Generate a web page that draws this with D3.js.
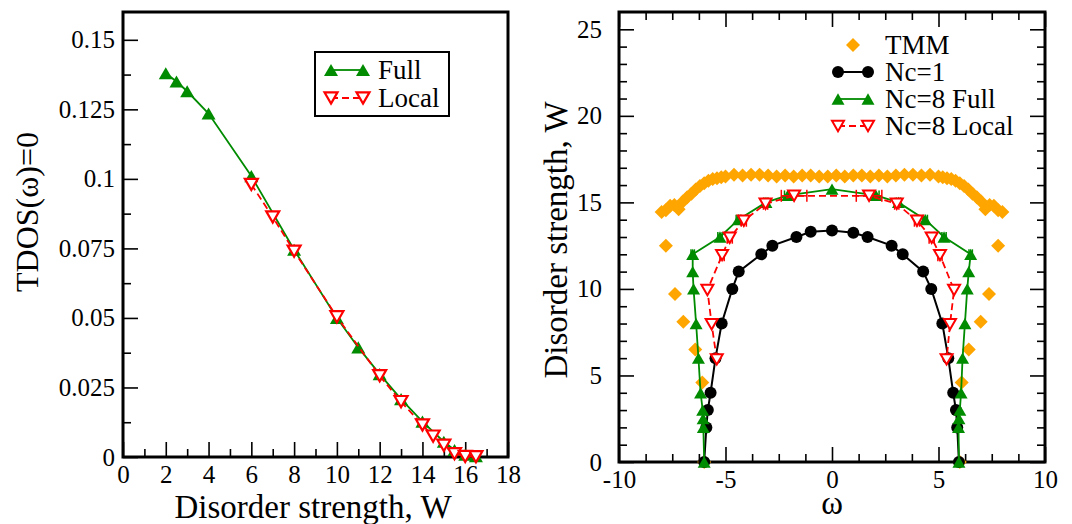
<!DOCTYPE html>
<html><head><meta charset="utf-8">
<script src="https://cdn.jsdelivr.net/npm/d3@7"></script>
<style>html,body{margin:0;padding:0;background:#fff;} svg text{font-family:'Liberation Serif','Times New Roman',serif;}</style>
</head><body>
<svg id="c" width="1072" height="524"></svg>
<script>
// ---------- Left panel data ----------
const leftFullW    = [2, 2.5, 3, 4, 6, 8, 10, 11, 12, 13, 14, 15, 15.5, 16, 16.5];
const leftFullTDOS = [0.138, 0.135, 0.1315, 0.1235, 0.101, 0.0745, 0.050, 0.0394, 0.0298, 0.0208, 0.0127, 0.0055, 0.0025, 0.0008, 0.0003];
const leftLocalW    = [6, 7, 8, 10, 12, 13, 14, 14.5, 15, 15.5, 16, 16.5];
const leftLocalTDOS = [0.098, 0.0863, 0.074, 0.0504, 0.0292, 0.0199, 0.0115, 0.0075, 0.0042, 0.0012, 0.0002, 0.0001];
const leftXTicks = [0, 2, 4, 6, 8, 10, 12, 14, 16, 18];
const leftYTicks = [0, 0.025, 0.05, 0.075, 0.1, 0.125, 0.15];
const leftYTickLabels = ["0", "0.025", "0.05", "0.075", "0.1", "0.125", "0.15"];

// ---------- Right panel data ----------
const tmmOmega = [-8.0, -7.8, -7.6, -7.4, -7.2, -7.0, -6.8, -6.6, -6.4, -6.2, -6.0, -5.8, -5.6, -5.4, -5.2, -5.0, -4.6, -4.2, -3.8, -3.4, -3.0, -2.6, -2.2, -1.8, -1.4, -1.0, -0.6, -0.2, 0.2, 0.6, 1.0, 1.4, 1.8, 2.2, 2.6, 3.0, 3.4, 3.8, 4.2, 4.6, 5.0, 5.2, 5.4, 5.6, 5.8, 6.0, 6.2, 6.4, 6.6, 6.8, 7.0, 7.2, 7.4, 7.6, 7.8, 8.0,
                  -7.8, -7.37, -6.98, -6.42, -6.09, -6.0, 7.8, 7.37, 6.98, 6.42, 6.09, 6.0];
const tmmW     = [14.45, 14.55, 14.8, 14.85, 14.6, 15.05, 15.3, 15.5, 15.75, 15.95, 16.1, 16.25, 16.35, 16.4, 16.45, 16.5, 16.6, 16.55, 16.6, 16.6, 16.55, 16.5, 16.55, 16.5, 16.55, 16.55, 16.5, 16.5, 16.55, 16.5, 16.55, 16.55, 16.5, 16.55, 16.5, 16.55, 16.6, 16.6, 16.55, 16.6, 16.5, 16.45, 16.4, 16.35, 16.25, 16.1, 15.95, 15.75, 15.5, 15.3, 15.05, 14.6, 14.85, 14.8, 14.55, 14.45,
                  12.5, 9.7, 8.1, 6.5, 4.6, 0, 12.5, 9.7, 8.1, 6.5, 4.6, 0];

const nc1Omega = [-6.0, -5.9, -5.83, -5.7, -5.47, -5.18, -4.68, -4.38, -3.32, -2.8, -1.67, -1.0, 0, 1.0, 1.67, 2.8, 3.32, 4.28, 4.66, 5.18, 5.46, 5.69, 5.82, 5.88, 5.96];
const nc1W     = [0, 2, 3, 4, 6, 8, 10, 11, 12, 12.5, 13, 13.3, 13.37, 13.25, 13, 12.5, 12, 11, 10, 8, 6, 4, 3, 2, 0];

const fullOmega = [-6.0, -6.04, -6.05, -6.07, -6.17, -6.27, -6.38, -6.5, -6.54, -6.54, -5.26, -4.4, -3.1, -2.08, 0, 2.06, 3.12, 4.38, 5.26, 6.51, 6.42, 6.35, 6.24, 6.13, 6.06, 6.0, 5.96, 5.94, 5.96];
const fullW     = [0, 2, 2.5, 3, 4, 6, 8, 10, 11, 12, 13, 14, 15, 15.4, 15.77, 15.4, 15, 14, 13, 12, 11, 10, 8, 6, 4, 3, 2.5, 2, 0];
const fullErr   = [0, 0, 0, 0, 0, 0, 0, 0, 0, 0.08, 0.1, 0.1, 0.1, 0.15, 0, 0.15, 0.1, 0.1, 0.1, 0.08, 0, 0, 0, 0, 0, 0, 0, 0, 0];

const localOmega = [-5.41, -5.65, -5.85, -5.16, -4.8, -4.14, -3.12, -1.78, 1.74, 3.04, 3.99, 4.68, 5.07, 5.73, 5.54, 5.38];
const localW     = [5.93, 7.96, 9.94, 11.95, 12.96, 13.94, 14.92, 15.38, 15.38, 14.92, 13.94, 12.96, 11.95, 9.94, 7.96, 5.93];
const localErr   = [0, 0, 0, 0.1, 0.12, 0.12, 0.1, 0.6, 0.6, 0.1, 0.12, 0.12, 0.1, 0, 0, 0];

const rightXTicks = [-10, -5, 0, 5, 10];
const rightYTicks = [0, 5, 10, 15, 20, 25];
const rightLegend = ["TMM", "Nc=1", "Nc=8 Full", "Nc=8 Local"];
const leftLegend = ["Full", "Local"];

// ---------- Styles ----------
const FONT = "'Liberation Serif','Times New Roman',serif";
const GREEN = "#008b00", RED = "#ff0000", ORANGE = "#ffa500", BLACK = "#000";

const svg = d3.select("#c");

function triUp(s){const h=s*0.433;return `M0,${-h}L${s/2},${h}L${-s/2},${h}Z`;}
function triDown(s){const h=s*0.433;return `M0,${h}L${s/2},${-h}L${-s/2},${-h}Z`;}
function diamond(s){return `M0,${-s}L${s},0L0,${s}L${-s},0Z`;}

function frameAxes(g, x, y, xMaj, xMin, yMaj, yMin, allSides, xFmt, yFmt, yPad, xPad){
  const [x0,x1]=x.range(), [y0,y1]=y.range();
  const ax = d3.axisBottom(x).tickValues(xMaj).tickSizeInner(-15).tickSizeOuter(0).tickPadding(xPad).tickFormat(xFmt);
  const axm = d3.axisBottom(x).tickValues(xMin).tickSizeInner(-8).tickSizeOuter(0).tickFormat("");
  const ay = d3.axisLeft(y).tickValues(yMaj).tickSizeInner(-15).tickSizeOuter(0).tickPadding(yPad).tickFormat(yFmt);
  const aym = d3.axisLeft(y).tickValues(yMin).tickSizeInner(-8).tickSizeOuter(0).tickFormat("");
  const parts = [
    g.append("g").attr("transform",`translate(0,${y0})`).call(ax),
    g.append("g").attr("transform",`translate(0,${y0})`).call(axm),
    g.append("g").attr("transform",`translate(${x0},0)`).call(ay),
    g.append("g").attr("transform",`translate(${x0},0)`).call(aym)
  ];
  if(allSides){
    parts.push(g.append("g").attr("transform",`translate(0,${y1})`).call(d3.axisTop(x).tickValues(xMaj).tickSizeInner(-15).tickSizeOuter(0).tickFormat("")));
    parts.push(g.append("g").attr("transform",`translate(0,${y1})`).call(d3.axisTop(x).tickValues(xMin).tickSizeInner(-8).tickSizeOuter(0).tickFormat("")));
    parts.push(g.append("g").attr("transform",`translate(${x1},0)`).call(d3.axisRight(y).tickValues(yMaj).tickSizeInner(-15).tickSizeOuter(0).tickFormat("")));
    parts.push(g.append("g").attr("transform",`translate(${x1},0)`).call(d3.axisRight(y).tickValues(yMin).tickSizeInner(-8).tickSizeOuter(0).tickFormat("")));
  }
  parts.forEach(p=>{
    p.attr("font-family",null).attr("font-size",null);
    p.select(".domain").remove();
    p.selectAll("line").attr("stroke","#000").attr("stroke-width",1.6);
    p.selectAll("text").style("font-family",FONT).style("font-size","25px").attr("fill","#000");
  });
  g.append("rect").attr("x",x0).attr("y",y1).attr("width",x1-x0).attr("height",y0-y1)
    .attr("fill","none").attr("stroke","#000").attr("stroke-width",3);
}

// ================= LEFT PANEL =================
const xL = d3.scaleLinear().domain([0,18]).range([123,508]);
const yL = d3.scaleLinear().domain([0,0.16]).range([457,12]);
const gL = svg.append("g");
const lxMin = d3.range(1,18,2);
const lyMin = [0.0125,0.0375,0.0625,0.0875,0.1125,0.1375];
frameAxes(gL, xL, yL, leftXTicks, lxMin, leftYTicks, lyMin, false,
  d=>String(d), (d,i)=>leftYTickLabels[i], 8, 8);

const fullL = leftFullW.map((w,i)=>[w,leftFullTDOS[i]]);
const localL = leftLocalW.map((w,i)=>[w,leftLocalTDOS[i]]);
const lineL = d3.line().x(d=>xL(d[0])).y(d=>yL(d[1]));
gL.append("path").attr("d",lineL(fullL)).attr("fill","none").attr("stroke",GREEN).attr("stroke-width",1.8);
gL.selectAll(".fl").data(fullL).enter().append("path")
  .attr("transform",d=>`translate(${xL(d[0])},${yL(d[1])})`).attr("d",triUp(14)).attr("fill",GREEN);
gL.append("path").attr("d",lineL(localL)).attr("fill","none").attr("stroke",RED).attr("stroke-width",1.8).attr("stroke-dasharray","7,4");
gL.selectAll(".ll").data(localL).enter().append("path")
  .attr("transform",d=>`translate(${xL(d[0])},${yL(d[1])})`).attr("d",triDown(13)).attr("fill","#fff").attr("stroke",RED).attr("stroke-width",2.2);

// left legend
gL.append("rect").attr("x",315).attr("y",52).attr("width",134).attr("height",64).attr("fill","#fff").attr("stroke","#000").attr("stroke-width",2);
const legL = [{t:leftLegend[0],y:70,c:GREEN,dash:null,m:"up"},{t:leftLegend[1],y:98,c:RED,dash:"7,4",m:"down"}];
legL.forEach(e=>{
  gL.append("line").attr("x1",331).attr("x2",363).attr("y1",e.y).attr("y2",e.y).attr("stroke",e.c).attr("stroke-width",1.8).attr("stroke-dasharray",e.dash);
  [331,363].forEach(xx=>{
    const p=gL.append("path").attr("transform",`translate(${xx},${e.y})`);
    if(e.m==="up") p.attr("d",triUp(14)).attr("fill",e.c);
    else p.attr("d",triDown(13)).attr("fill","#fff").attr("stroke",e.c).attr("stroke-width",2.2);
  });
  gL.append("text").attr("x",378).attr("y",e.y+9).style("font-size","27px").text(e.t);
});

// left titles
gL.append("text").attr("x",313).attr("y",518).attr("text-anchor","middle").style("font-size","33px").text("Disorder strength, W");
gL.append("text").attr("transform","translate(38,212) rotate(-90)").attr("text-anchor","middle").style("font-size","32px").text("TDOS(ω)=0");

// ================= RIGHT PANEL =================
const xR = d3.scaleLinear().domain([-10,10]).range([619,1045]);
const yR = d3.scaleLinear().domain([0,26]).range([462,12]);
const gR = svg.append("g");
const rxMin = [-8.75,-7.5,-6.25,-3.75,-2.5,-1.25,1.25,2.5,3.75,6.25,7.5,8.75];
const ryMin = d3.range(1,26).filter(v=>v%5!==0);
frameAxes(gR, xR, yR, rightXTicks, rxMin, rightYTicks, ryMin, true,
  d=>String(d), d=>String(d), 17, 8);

// TMM
const tmm = tmmOmega.map((w,i)=>[w,tmmW[i]]);
gR.selectAll(".tmm").data(tmm).enter().append("path")
  .attr("transform",d=>`translate(${xR(d[0])},${yR(d[1])})`).attr("d",diamond(7)).attr("fill",ORANGE);

const lineR = d3.line().x(d=>xR(d[0])).y(d=>yR(d[1]));
// Nc=1
const nc1 = nc1Omega.map((w,i)=>[w,nc1W[i]]);
gR.append("path").attr("d",lineR(nc1)).attr("fill","none").attr("stroke",BLACK).attr("stroke-width",2);
gR.selectAll(".nc1").data(nc1).enter().append("circle")
  .attr("cx",d=>xR(d[0])).attr("cy",d=>yR(d[1])).attr("r",6).attr("fill",BLACK);

// Nc=8 Full
const full = fullOmega.map((w,i)=>[w,fullW[i],fullErr[i]]);
gR.append("path").attr("d",lineR(full)).attr("fill","none").attr("stroke",GREEN).attr("stroke-width",1.8);
full.filter(d=>d[2]>0).forEach(d=>{
  const yy=yR(d[1]), a=xR(d[0]-d[2]), b=xR(d[0]+d[2]);
  gR.append("line").attr("x1",a).attr("x2",b).attr("y1",yy).attr("y2",yy).attr("stroke",GREEN).attr("stroke-width",1.5);
  [a,b].forEach(xx=>gR.append("line").attr("x1",xx).attr("x2",xx).attr("y1",yy-5).attr("y2",yy+5).attr("stroke",GREEN).attr("stroke-width",1.5));
});
gR.selectAll(".full").data(full).enter().append("path")
  .attr("transform",d=>`translate(${xR(d[0])},${yR(d[1])})`).attr("d",triUp(13)).attr("fill",GREEN);

// Nc=8 Local
const local = localOmega.map((w,i)=>[w,localW[i],localErr[i]]);
gR.append("path").attr("d",lineR(local)).attr("fill","none").attr("stroke",RED).attr("stroke-width",1.8).attr("stroke-dasharray","7,4");
local.filter(d=>d[2]>0).forEach(d=>{
  const yy=yR(d[1]), a=xR(d[0]-d[2]), b=xR(d[0]+d[2]);
  gR.append("line").attr("x1",a).attr("x2",b).attr("y1",yy).attr("y2",yy).attr("stroke",RED).attr("stroke-width",1.5);
  [a,b].forEach(xx=>gR.append("line").attr("x1",xx).attr("x2",xx).attr("y1",yy-6).attr("y2",yy+6).attr("stroke",RED).attr("stroke-width",1.5));
});
gR.selectAll(".loc").data(local).enter().append("path")
  .attr("transform",d=>`translate(${xR(d[0])},${yR(d[1])})`).attr("d",triDown(12)).attr("fill","#fff").attr("stroke",RED).attr("stroke-width",2);

// right legend
const legR = [
  {t:rightLegend[0],y:45,c:ORANGE,m:"dia",line:false},
  {t:rightLegend[1],y:72,c:BLACK,m:"circ",line:true,dash:null},
  {t:rightLegend[2],y:99,c:GREEN,m:"up",line:true,dash:null},
  {t:rightLegend[3],y:126,c:RED,m:"down",line:true,dash:"7,4"}
];
legR.forEach(e=>{
  if(e.line) gR.append("line").attr("x1",838).attr("x2",868).attr("y1",e.y).attr("y2",e.y).attr("stroke",e.c).attr("stroke-width",e.c===BLACK?2:1.8).attr("stroke-dasharray",e.dash);
  const xs = e.line ? [838,868] : [853];
  xs.forEach(xx=>{
    if(e.m==="dia") gR.append("path").attr("transform",`translate(${xx},${e.y})`).attr("d",diamond(7)).attr("fill",e.c);
    else if(e.m==="circ") gR.append("circle").attr("cx",xx).attr("cy",e.y).attr("r",6).attr("fill",e.c);
    else if(e.m==="up") gR.append("path").attr("transform",`translate(${xx},${e.y})`).attr("d",triUp(13)).attr("fill",e.c);
    else gR.append("path").attr("transform",`translate(${xx},${e.y})`).attr("d",triDown(12)).attr("fill","#fff").attr("stroke",e.c).attr("stroke-width",2);
  });
  gR.append("text").attr("x",885).attr("y",e.y+9).style("font-size","27px").text(e.t);
});

// right titles
gR.append("text").attr("x",832).attr("y",514).attr("text-anchor","middle").style("font-size","33px").text("ω");
gR.append("text").attr("transform","translate(567,240) rotate(-90)").attr("text-anchor","middle").style("font-size","33px").text("Disorder strength, W");
</script>
</body></html>
